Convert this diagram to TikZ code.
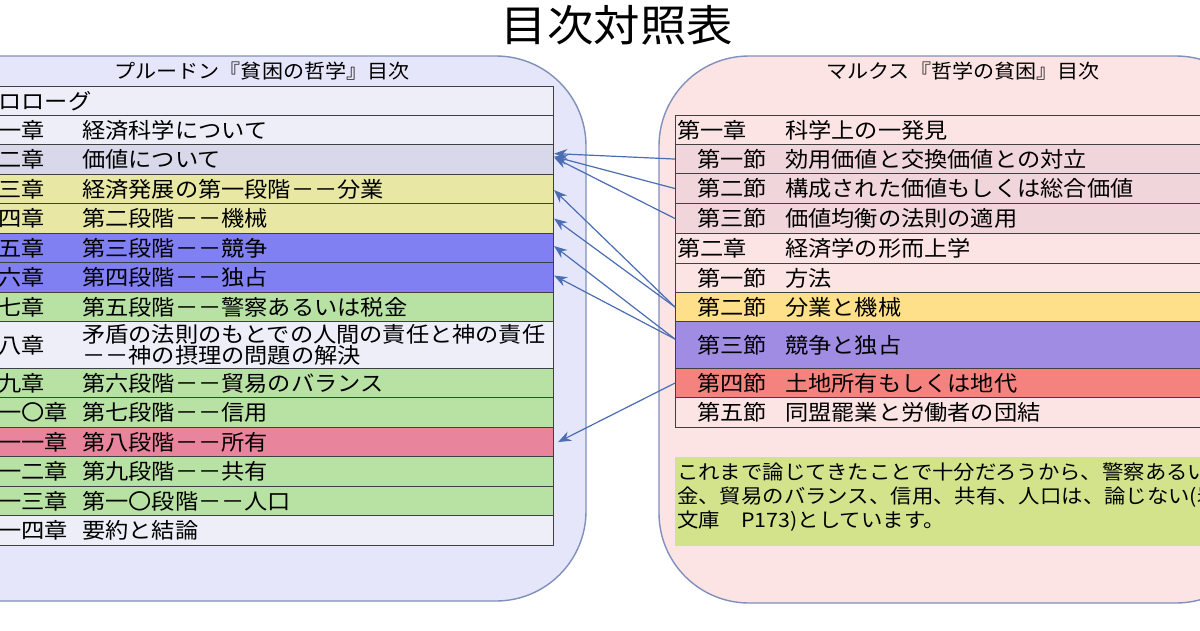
\documentclass[tikz,border=0pt]{standalone}
\usepackage{fontspec}
\setmainfont{Noto Sans CJK JP}[FakeStretch=1.08]
\usetikzlibrary{arrows.meta}

\definecolor{panelline}{HTML}{8090BA}
\definecolor{rowline}{HTML}{404040}
\definecolor{linkblue}{HTML}{4A6DB3}
\definecolor{lavpanel}{HTML}{E6E6FA}
\definecolor{lavrow}{HTML}{EEEEF9}
\definecolor{lavdark}{HTML}{D8D8EA}
\definecolor{yelrow}{HTML}{E8E8A4}
\definecolor{blurow}{HTML}{8080F2}
\definecolor{grnrow}{HTML}{B8E2A4}
\definecolor{pnkrow}{HTML}{E8849C}
\definecolor{pkpanel}{HTML}{FCE4E4}
\definecolor{pkdark}{HTML}{F0D6DA}
\definecolor{orgrow}{HTML}{FFE08A}
\definecolor{purrow}{HTML}{A08CE2}
\definecolor{redrow}{HTML}{F4827E}
\definecolor{notegrn}{HTML}{D2E38C}

\begin{document}
\begin{tikzpicture}[
    x=1pt, y=-1pt,
    panel/.style={draw=panelline, line width=1.4pt, rounded corners=90pt},
    row/.style={draw=rowline, line width=1.1pt, inner sep=0pt, anchor=north west},
    lbl/.style={font=\fontsize{21.5}{21}\selectfont, inner sep=0pt, anchor=west},
    head/.style={font=\fontsize{19.5}{24}\selectfont, inner sep=0pt},
    link/.style={draw=linkblue, line width=1.2pt, -{Stealth[length=13pt,width=10pt]}},
  ]
    \useasboundingbox (0,0) rectangle (1200,630);
    \clip (0,0) rectangle (1200,630);
    \fill[white] (0,0) rectangle (1200,630);

    %% title
    \node[font=\fontsize{43}{48}\selectfont, inner sep=0pt] (title) at (617,25) {目次対照表};

    %% the two panels
    \draw[panel, fill=lavpanel] (-150,56) rectangle (586,601);
    \draw[panel, fill=pkpanel] (659,56) rectangle (1266,603);
    \node[head] (ltitle) at (262,71) {プルードン『貧困の哲学』目次};
    \node[head] (rtitle) at (963,71) {マルクス『哲学の貧困』目次};

    %% Proudhon, one row per chapter
    \foreach \y/\h/\c/\a/\b [count=\i] in {
        86/29/lavrow/プロローグ/{},
        115/29/lavrow/第一章/経済科学について,
        144/30/lavdark/第二章/価値について,
        174/29/yelrow/第三章/経済発展の第一段階－－分業,
        203/30/yelrow/第四章/第二段階－－機械,
        233/29/blurow/第五章/第三段階－－競争,
        262/30/blurow/第六章/第四段階－－独占,
        292/29/grnrow/第七章/第五段階－－警察あるいは税金,
        321/47/lavrow/第八章/{矛盾の法則のもとでの人間の責任と神の責任\\－－神の摂理の問題の解決},
        368/29/grnrow/第九章/第六段階－－貿易のバランス,
        397/30/grnrow/第一〇章/第七段階－－信用,
        427/29/pnkrow/第一一章/第八段階－－所有,
        456/30/grnrow/第一二章/第九段階－－共有,
        486/29/grnrow/第一三章/第一〇段階－－人口,
        515/30/lavrow/第一四章/要約と結論}{
        \node[row, fill=\c, minimum width=593pt, minimum height=\h pt] (l\i) at (-40,\y) {};
        \node[lbl] at ([xshift=15pt]l\i.west) {\a};
        \node[lbl, align=left] at ([xshift=122pt]l\i.west) {\b};
    }

    %% Marx, chapters and sections
    \foreach \y/\h/\c/\lx/\a/\b [count=\i] in {
        115/29/pkpanel/2/第一章/科学上の一発見,
        144/29/pkdark/22/第一節/効用価値と交換価値との対立,
        173/30/pkdark/22/第二節/構成された価値もしくは総合価値,
        203/30/pkdark/22/第三節/価値均衡の法則の適用,
        233/30/pkpanel/2/第二章/経済学の形而上学,
        263/29/pkpanel/22/第一節/方法,
        292/29/orgrow/22/第二節/分業と機械,
        321/47/purrow/22/第三節/競争と独占,
        368/29/redrow/22/第四節/土地所有もしくは地代,
        397/30/pkpanel/22/第五節/同盟罷業と労働者の団結}{
        \node[row, fill=\c, minimum width=590pt, minimum height=\h pt] (r\i) at (675,\y) {};
        \node[lbl] at ([xshift=\lx pt]r\i.west) {\a};
        \node[lbl] at ([xshift=110pt]r\i.west) {\b};
    }

    %% note below the sections
    \fill[notegrn] (675,457) rectangle (1266,546);
    \node[font=\fontsize{19.8}{24}\selectfont, inner sep=0pt, anchor=north west, align=left] (note) at (677,463)
        {これまで論じてきたことで十分だろうから、警察あるいは税\\金、貿易のバランス、信用、共有、人口は、論じない(岩波\\文庫　P173)としています。};

    %% correspondences
    \draw[link] (r2.west) -- ([yshift=6pt]l3.east);
    \draw[link] (r3.west) -- ([yshift=3pt]l3.east);
    \draw[link] (r4.west) -- ([yshift=2pt]l3.east);
    \draw[link] (r7.west) -- ([yshift=-1pt]l4.east);
    \draw[link] (r7.west) -- (l5.east);
    \draw[link] ([yshift=6pt]r8.west) -- ([yshift=2pt]l6.east);
    \draw[link] ([yshift=6pt]r8.west) -- ([yshift=2pt]l7.east);
    \draw[link] (r9.west) -- ([xshift=4pt]l12.east);
\end{tikzpicture}
\end{document}
